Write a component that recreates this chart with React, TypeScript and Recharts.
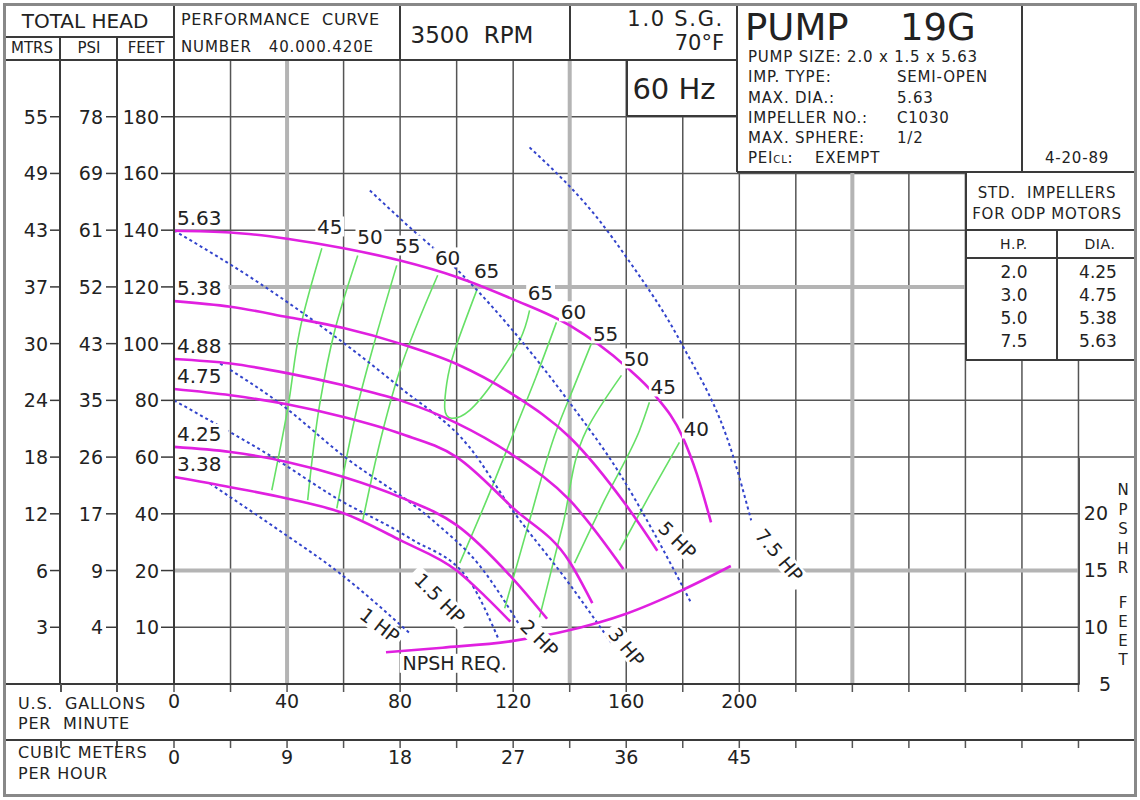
import React from 'react';
import { ComposedChart, Line, XAxis, YAxis, CartesianGrid, ReferenceDot } from 'recharts';

const FONT = '"DejaVu Sans", Verdana, sans-serif';
const INK = '#222';
const RULE = '#3a3a3a';
const GRID = '#555';
const MAJOR = '#b4b4b4';
const PINK = '#e020e0';
const GREEN = '#66e066';
const BLUE = '#3344cc';

// grid + axis ticks
const gpmGrid = [0, 20, 40, 60, 80, 100, 120, 140, 160, 180, 200, 220, 240, 260, 280, 300, 320, 340];
const headGrid = [-20, 0, 20, 40, 60, 80, 100, 120, 140, 160, 180, 200];
const majorGpm = [40, 140, 240];
const majorHead = [20, 120];

const gpmLabels = [0, 40, 80, 120, 160, 200];
const m3Labels = ['0', '9', '18', '27', '36', '45'];

const headTicks = [180, 160, 140, 120, 100, 80, 60, 40, 20, 0];
const feetLabels = ['180', '160', '140', '120', '100', '80', '60', '40', '20', '10'];
const psiLabels = ['78', '69', '61', '52', '43', '35', '26', '17', '9', '4'];
const mtrsLabels = ['55', '49', '43', '37', '30', '24', '18', '12', '6', '3'];

// impeller curves: [gpm, head ft]
const imp563 = [[0, 139.8], [20, 139.2], [40, 137], [60, 133.6], [80, 129.3], [100, 123.5], [120, 115.6], [140, 106.4], [160, 91.8], [170, 82], [180, 67], [185, 54], [190, 37]];
const imp538 = [[0, 115], [20, 113], [40, 109.4], [60, 105.5], [80, 100], [100, 92.8], [120, 82], [140, 67], [160, 43], [171, 27]];
const imp488 = [[0, 94.6], [20, 93], [40, 89.6], [60, 85.3], [80, 80], [100, 72], [120, 60.6], [140, 44.8], [159, 20.5]];
const imp475 = [[0, 84], [20, 81.8], [40, 78.6], [60, 74.1], [80, 68.3], [100, 60], [120, 42], [140, 23], [148, 8.5]];
const imp425 = [[0, 63.6], [20, 61.8], [40, 58.3], [60, 53], [80, 45.9], [100, 36], [120, 17], [132, 3]];
const imp338 = [[0, 53], [20, 49.4], [40, 45.4], [60, 40.2], [80, 30.7], [100, 20], [110, 11], [119, 2]];
const impNames = ['5.63', '5.38', '4.88', '4.75', '4.25', '3.38'];
const impCurves = [imp563, imp538, imp488, imp475, imp425, imp338];

// efficiency contours (%): [gpm, head ft]
const eff45L = [[52.3, 133.6], [44.5, 104.7], [40.3, 77.5], [34.6, 48.3]];
const eff50L = [[65, 131.1], [56.9, 104.7], [51.6, 78.9], [47.3, 44.8]];
const eff55L = [[78.8, 127.6], [72.1, 104.7], [65.7, 81.1], [57.6, 41.9]];
const eff60L = [[93.3, 124.1], [79.9, 90.6], [73.9, 69.4], [66.8, 37.7]];
const eff65 = [[107.1, 118.8], [99.3, 97.6], [96.5, 86], [95.8, 77], [98.2, 73.7], [104.6, 76.5], [113.4, 87], [122.3, 101.1], [125.8, 111.7]];
const eff60R = [[135.3, 107.5], [127.9, 87.8], [120.5, 69.4], [111, 45.8], [101.1, 22.6]];
const eff55R = [[147.7, 100.1], [141.7, 85.3], [135.3, 69.4], [125.8, 37.7], [117, 6.7]];
const eff50R = [[158.3, 88.8], [145.9, 69.4], [137.5, 35.9], [129.3, 3.5]];
const eff45R = [[168.2, 79.3], [164.7, 69.4], [152.3, 44.8], [141.7, 22.6]];
const eff40R = [[178.8, 65.2], [168.2, 46.5], [157.6, 27.1]];
const effLines = [eff45L, eff50L, eff55L, eff60L, eff60R, eff55R, eff50R, eff45R, eff40R];

const effLabels = [
  { t: '45', x: 55.1, y: 141.3 }, { t: '50', x: 69.3, y: 137.8 }, { t: '55', x: 82.7, y: 134.6 },
  { t: '60', x: 96.8, y: 130.4 }, { t: '65', x: 110.6, y: 125.8 }, { t: '65', x: 129.7, y: 118.1 },
  { t: '60', x: 141.3, y: 111.4 }, { t: '55', x: 152.7, y: 103.6 }, { t: '50', x: 163.6, y: 94.8 },
  { t: '45', x: 173.1, y: 84.9 }, { t: '40', x: 184.8, y: 70.1 },
];

// horsepower lines: [gpm, head ft]
const hp1 = [[12.7, 50.7], [35.7, 35.2], [58.7, 19], [83.4, -2.1]];
const hp15 = [[0, 80], [20, 68.7], [33.9, 60.6], [57.5, 45.5], [83.4, 31.4], [104.6, 16.2], [115, -4.6]];
const hp2 = [[16.3, 93], [37.5, 78.9], [59.7, 60.6], [91.5, 37.7], [108, 21.9], [122.3, 0.7]];
const hp3 = [[0, 139.9], [30.4, 121.2], [79.9, 84.6], [104.6, 63.4], [119.8, 41.2], [138.9, 16.6], [154.8, -5.6]];
const hp5 = [[69.3, 154], [83.4, 141], [98.6, 127.6], [119.8, 104.7], [139.9, 79.3], [157.6, 54.3], [169.3, 34.2], [183, 8.5]];
const hp75 = [[125.8, 169.2], [150.5, 143.4], [160.1, 130.4], [179.5, 100.1], [197.5, 61.3], [204.2, 37.7]];
const hpLines = [hp1, hp15, hp2, hp3, hp5, hp75];
const hpLabels = [
  { t: '1 HP', x: 72.8, y: 0.7, a: 38 }, { t: '1.5 HP', x: 94, y: 10.2, a: 45 },
  { t: '2 HP', x: 129.3, y: -3.9, a: 45 }, { t: '3 HP', x: 160.1, y: -7, a: 50 },
  { t: '5 HP', x: 178.1, y: 30.7, a: 45 }, { t: '7.5 HP', x: 214.1, y: 25.4, a: 50 },
];

// NPSH required: [gpm, npsh ft]
const npsh = [[75, 7.8], [95, 8.2], [120, 8.8], [150, 10.4], [160, 11.2], [180, 13.3], [197, 15.4]];

const pts = (a: number[][]) => a.map(([x, y]) => ({ x, y }));

const HeadTick = (props: any) => {
  const { y, payload } = props;
  const i = headTicks.indexOf(payload.value);
  if (i < 0) return <g />;
  return (
    <g fontFamily={FONT} fontSize={19} fill={INK}>
      <text x={48} y={y} dy={7} textAnchor="end">{mtrsLabels[i]}</text>
      <line x1={50} x2={59} y1={y} y2={y} stroke={RULE} strokeWidth={1.5} />
      <text x={103} y={y} dy={7} textAnchor="end">{psiLabels[i]}</text>
      <line x1={106} x2={116} y1={y} y2={y} stroke={RULE} strokeWidth={1.5} />
      <text x={159} y={y} dy={7} textAnchor="end">{feetLabels[i]}</text>
      <line x1={161} x2={174} y1={y} y2={y} stroke={RULE} strokeWidth={1.5} />
    </g>
  );
};

const FlowTick = (labels: string[]) => (props: any) => {
  const { x, y, payload } = props;
  const i = gpmLabels.indexOf(payload.value);
  if (i < 0) return <g />;
  return (
    <text x={x} y={y} dy={16} textAnchor="middle" fontFamily={FONT} fontSize={19} fill={INK}>{labels[i]}</text>
  );
};

const Tag = ({ cx, cy, text, size, angle = 0, anchor = 'middle' }: any) => {
  const w = text.length * size * 0.62 + 4;
  const x0 = anchor === 'middle' ? -w / 2 : anchor === 'start' ? -2 : -w + 2;
  return (
    <g transform={`translate(${cx},${cy}) rotate(${angle})`}>
      <rect x={x0} y={-size * 0.5} width={w} height={size} fill="#fff" />
      <text x={0} y={0} dy={size * 0.36} textAnchor={anchor} fontSize={size} fontFamily={FONT} fill={INK}>{text}</text>
    </g>
  );
};

const HL = ({ x1, x2, y, w = 2, c = RULE }: any) => (
  <div style={{ position: 'absolute', left: x1, top: y - w / 2, width: x2 - x1, height: w, background: c }} />
);
const VL = ({ x, y1, y2, w = 2, c = RULE }: any) => (
  <div style={{ position: 'absolute', left: x - w / 2, top: y1, width: w, height: y2 - y1, background: c }} />
);
const Fill = ({ x, y, w, h }: any) => (
  <div style={{ position: 'absolute', left: x, top: y, width: w, height: h, background: '#fff' }} />
);
const T = ({ x, y, size, anchor = 'start', sp = 0, children }: any) => (
  <div
    style={{
      position: 'absolute', left: x, top: y, fontSize: size, lineHeight: 1, whiteSpace: 'pre', color: INK,
      letterSpacing: sp,
      transform: anchor === 'middle' ? 'translate(-50%,-50%)' : anchor === 'end' ? 'translate(-100%,-50%)' : 'translateY(-50%)',
    }}
  >
    {children}
  </div>
);

const common = { xAxisId: 'gpm', yAxisId: 'head', dot: false, isAnimationActive: false, dataKey: 'y' } as const;

export default function App() {
  return (
    <div style={{ position: 'relative', width: 1140, height: 800, background: '#fff', fontFamily: FONT, overflow: 'hidden' }}>
      <style>{'body{margin:0}'}</style>
      <div style={{ position: 'absolute', left: 0, top: 0 }}>
        <ComposedChart width={1140} height={800} margin={{ top: 60, right: 5, bottom: 5, left: 5 }}>
          <CartesianGrid xAxisId="gpm" yAxisId="head" stroke={GRID} strokeWidth={1.5} />
          <XAxis xAxisId="gpm" type="number" dataKey="x" domain={[0, 340]} ticks={gpmGrid} height={56}
            axisLine={false} tickSize={8} tickLine={{ stroke: GRID, strokeWidth: 1.5 }} tickMargin={0}
            tick={FlowTick(gpmLabels.map(String))} interval={0} allowDataOverflow />
          <XAxis xAxisId="m3" type="number" dataKey="x" domain={[0, 340]} ticks={gpmGrid} height={55}
            axisLine={false} tickSize={8} tickLine={{ stroke: GRID, strokeWidth: 1.5 }} tickMargin={0}
            tick={FlowTick(m3Labels)} interval={0} allowDataOverflow />
          <YAxis yAxisId="head" type="number" domain={[-20, 200]} ticks={headGrid} width={169}
            axisLine={false} tickLine={false} tick={<HeadTick />} interval={0} allowDataOverflow />
          <YAxis yAxisId="npsh" orientation="right" type="number" domain={[5, 60]} hide allowDataOverflow />

          {majorGpm.map((g) => (
            <Line key={'mg' + g} {...common} data={pts([[g, -20], [g, 200]])} stroke={MAJOR} strokeWidth={4} type="linear" />
          ))}
          {majorHead.map((h) => (
            <Line key={'mh' + h} {...common} data={pts([[0, h], [340, h]])} stroke={MAJOR} strokeWidth={4} type="linear" />
          ))}

          {effLines.map((e, i) => (
            <Line key={'e' + i} {...common} data={pts(e)} stroke={GREEN} strokeWidth={1.6} type="monotoneY" />
          ))}
          <Line {...common} data={pts(eff65)} stroke={GREEN} strokeWidth={1.6} type="natural" />

          {hpLines.map((h, i) => (
            <Line key={'h' + i} {...common} data={pts(h)} stroke={BLUE} strokeWidth={2} strokeDasharray="3 3" type="monotone" />
          ))}

          {impCurves.map((c, i) => (
            <Line key={'i' + i} {...common} data={pts(c)} stroke={PINK} strokeWidth={2.6} type="monotone" />
          ))}
          <Line {...common} yAxisId="npsh" data={pts(npsh)} stroke={PINK} strokeWidth={2.6} type="monotone" />

          {effLabels.map((l, i) => (
            <ReferenceDot key={'el' + i} xAxisId="gpm" yAxisId="head" x={l.x} y={l.y} r={1}
              shape={(p: any) => <Tag cx={p.cx} cy={p.cy} text={l.t} size={20} />} />
          ))}
          {impCurves.map((c, i) => (
            <ReferenceDot key={'il' + i} xAxisId="gpm" yAxisId="head" x={c[0][0]} y={c[0][1]} r={1}
              shape={(p: any) => <Tag cx={p.cx + 3} cy={p.cy - 13} text={impNames[i]} size={20} anchor="start" />} />
          ))}
          {hpLabels.map((l, i) => (
            <ReferenceDot key={'hl' + i} xAxisId="gpm" yAxisId="head" x={l.x} y={l.y} r={1}
              shape={(p: any) => <Tag cx={p.cx} cy={p.cy} text={l.t} size={19} angle={l.a} />} />
          ))}
          <ReferenceDot xAxisId="gpm" yAxisId="head" x={99.3} y={-12.7} r={1}
            shape={(p: any) => <Tag cx={p.cx} cy={p.cy} text="NPSH REQ." size={19} />} />
        </ComposedChart>
      </div>

      {/* boxes covering the grid */}
      <Fill x={5} y={5} w={732} h={55} />
      <Fill x={627} y={60} w={110} h={56} />
      <Fill x={737} y={5} w={398} h={167} />
      <Fill x={966} y={172} w={169} h={188} />
      <Fill x={1080} y={458} w={55} h={240} />

      {/* header rules */}
      <HL x1={5} x2={174} y={37} />
      <HL x1={5} x2={737} y={60} />
      <VL x={60} y1={37} y2={684} />
      <VL x={117} y1={37} y2={684} />
      <VL x={174} y1={5} y2={684} />
      <VL x={400} y1={5} y2={60} />
      <VL x={570} y1={5} y2={60} />
      <VL x={737} y1={5} y2={172} />
      <VL x={627} y1={60} y2={116} />
      <HL x1={627} x2={737} y={116} />
      <HL x1={737} x2={1135} y={172} />
      <VL x={1022} y1={5} y2={172} />
      <VL x={966} y1={172} y2={360} />
      <HL x1={966} x2={1135} y={230} />
      <HL x1={966} x2={1135} y={258} />
      <VL x={1057} y1={230} y2={360} />
      <HL x1={966} x2={1135} y={360} />
      <VL x={1079} y1={458} y2={684} w={1.5} c={GRID} />
      <HL x1={5} x2={1079} y={684} />
      <HL x1={5} x2={1135} y={740} />
      {[61, 117].map((x) => (
        <React.Fragment key={x}>
          <VL x={x} y1={684} y2={692} w={1.5} c={GRID} />
          <VL x={x} y1={740} y2={748} w={1.5} c={GRID} />
        </React.Fragment>
      ))}
      <div style={{ position: 'absolute', left: 3, top: 3, width: 1134, height: 794, border: '3px solid #888', boxSizing: 'border-box' }} />

      {/* header text */}
      <T x={85} y={21} size={20} anchor="middle">TOTAL HEAD</T>
      <T x={32} y={48} size={15} anchor="middle">MTRS</T>
      <T x={89} y={48} size={15} anchor="middle">PSI</T>
      <T x={146} y={48} size={15} anchor="middle">FEET</T>
      <T x={181} y={20} size={16} sp={0.7}>PERFORMANCE  CURVE</T>
      <T x={181} y={47} size={15} sp={0.9}>NUMBER   40.000.420E</T>
      <T x={472} y={35} size={23} anchor="middle">3500  RPM</T>
      <T x={724} y={19} size={21} sp={1.7} anchor="end">1.0 S.G.</T>
      <T x={724} y={43} size={21} anchor="end">70°F</T>
      <T x={674} y={89} size={29} anchor="middle">60 Hz</T>

      <T x={745} y={27} size={37}>PUMP</T>
      <T x={900} y={27} size={37}>19G</T>
      <T x={748} y={57} size={15} sp={0.8}>PUMP SIZE: 2.0 x 1.5 x 5.63</T>
      <T x={748} y={77} size={15} sp={0.8}>IMP. TYPE:</T>
      <T x={897} y={77} size={15} sp={0.8}>SEMI-OPEN</T>
      <T x={748} y={98} size={15} sp={0.8}>MAX. DIA.:</T>
      <T x={897} y={98} size={15} sp={0.8}>5.63</T>
      <T x={748} y={118} size={15} sp={0.8}>IMPELLER NO.:</T>
      <T x={897} y={118} size={15} sp={0.8}>C1030</T>
      <T x={748} y={138} size={15} sp={0.8}>MAX. SPHERE:</T>
      <T x={897} y={138} size={15} sp={0.8}>1/2</T>
      <T x={748} y={158} size={15} sp={0.8}>PEI<span style={{ fontSize: 10 }}>CL</span>:</T>
      <T x={815} y={158} size={15} sp={0.8}>EXEMPT</T>
      <T x={1077} y={158} size={15} sp={0.8} anchor="middle">4-20-89</T>

      <T x={1047} y={193} size={15} sp={0.8} anchor="middle">STD.  IMPELLERS</T>
      <T x={1047} y={214} size={15} sp={0.8} anchor="middle">FOR ODP MOTORS</T>
      <T x={1014} y={244} size={14} sp={0.6} anchor="middle">H.P.</T>
      <T x={1100} y={244} size={14} sp={0.6} anchor="middle">DIA.</T>
      {['2.0', '3.0', '5.0', '7.5'].map((v, i) => (
        <T key={v} x={1014} y={272 + i * 23} size={17} anchor="middle">{v}</T>
      ))}
      {['4.25', '4.75', '5.38', '5.63'].map((v, i) => (
        <T key={v} x={1098} y={272 + i * 23} size={17} anchor="middle">{v}</T>
      ))}

      {/* NPSH scale */}
      <T x={1108} y={513} size={19} anchor="end">20</T>
      <T x={1108} y={570} size={19} anchor="end">15</T>
      <T x={1108} y={627} size={19} anchor="end">10</T>
      <T x={1111} y={684} size={19} anchor="end">5</T>
      <div style={{ position: 'absolute', left: 1115, top: 481, width: 16, textAlign: 'center', fontSize: 15, lineHeight: '19.5px', color: INK }}>
        {'NPSHR'.split('').map((c, i) => <div key={i}>{c}</div>)}
      </div>
      <div style={{ position: 'absolute', left: 1115, top: 594, width: 16, textAlign: 'center', fontSize: 15, lineHeight: '19px', color: INK }}>
        {'FEET'.split('').map((c, i) => <div key={i}>{c}</div>)}
      </div>

      {/* flow row captions */}
      <T x={18} y={704} size={16} sp={0.8}>U.S.  GALLONS</T>
      <T x={18} y={724} size={16} sp={0.8}>PER  MINUTE</T>
      <T x={18} y={753} size={16} sp={0.8}>CUBIC METERS</T>
      <T x={18} y={774} size={16} sp={0.8}>PER HOUR</T>
    </div>
  );
}
